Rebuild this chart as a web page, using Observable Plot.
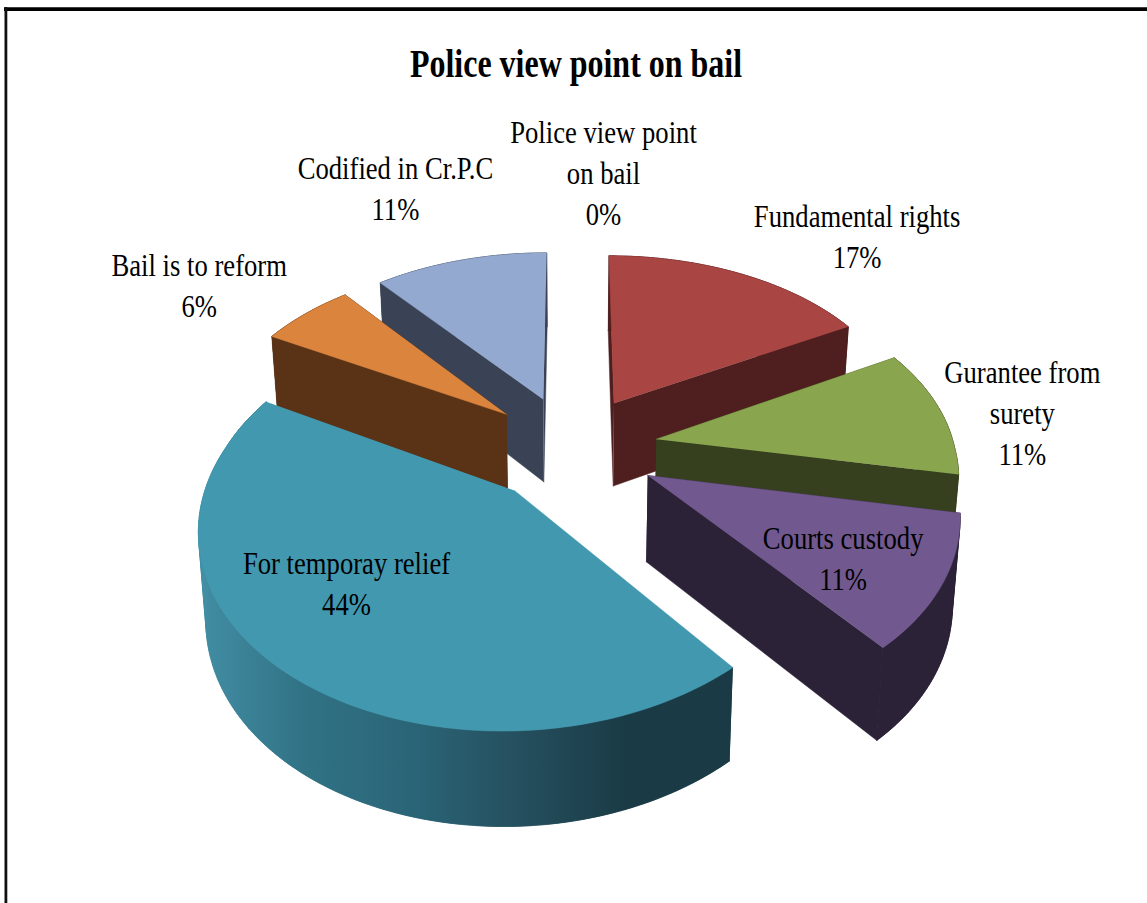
<!DOCTYPE html>
<html>
<head>
<meta charset="utf-8">
<style>html,body{margin:0;padding:0;background:#fff}svg{display:block}</style>
<script src="https://cdn.jsdelivr.net/npm/d3@7"></script>
<script src="https://cdn.jsdelivr.net/npm/@observablehq/plot@0.6"></script>
</head>
<body>
<script>
const chartTitle = "Police view point on bail";
const categories = ["Police view point\non bail","Fundamental rights","Gurantee from\nsurety","Courts custody","For temporay relief","Bail is to reform","Codified in Cr.P.C"];
const percents = [0,17,11,11,44,6,11];
const topColors = ["#7f7f7f","#A94543","#89A54E","#71588F","#4198AF","#DB843D","#93A9CF"];
const sideColors = ["#333333","#4E1F1E","#363F1E","#2C2238","url(#blueWall)","#5A3216","#3A4356"];
const blueWall = ["#428EA4","#317285","#2A6577","#254F5E","#1A3B46","#1A3B46"];
const labelAngle = [4.96,41.5,82.9,123.5,229.1,304.7,336.95];
const labelRadius = [1.700,1.570,1.291,0.701,0.644,1.504,1.706];
const paintOrder = [0,6,1,5,2,3,4];

// pie geometry options
const W = 1147, H = 903, CX = 571, CY = 447, RX = 298, RY = 185, PERSP_BACK = 0.14, PERSP_FRONT = 0.165, DEPTH = 85, EXPLODE = 0.29;
const rad = d => d * Math.PI / 180;
const dir = d => [Math.sin(rad(d)), -Math.cos(rad(d))];
const proj = ([X, Y], z = 0) => ({
  x: CX + RX * X / (1 - (Y < 0 ? PERSP_BACK : PERSP_FRONT) * Y) * (1 - 0.02 * z),
  y: CY + RY * Y / (1 - PERSP_FRONT * Y) + z * DEPTH * (1 + 0.1 * Y)
});
const labelProj = ([X, Y]) => ({
  x: 570 + RX * X / (1 - PERSP_FRONT * Y),
  y: CY + RY * Y / (1 - PERSP_FRONT * Y)
});
let cum = 0;
const slices = percents.map((v, i) => {
  const a0 = cum * 3.6; cum += v; const a1 = cum * 3.6;
  const m = dir((a0 + a1) / 2);
  return {i, a0, a1, off: [EXPLODE * m[0], EXPLODE * m[1]]};
});
const rim = (s, a) => { const d = dir(a); return [s.off[0] + d[0], s.off[1] + d[1]]; };
const rows = [];
let pid = 0;
function poly(points, fill) { pid++; for (const p of points) rows.push({...p, pid, fill}); }
for (const i of paintOrder) {
  const s = slices[i];
  if (percents[i] === 0) continue;
  const n = Math.max(2, Math.round(s.a1 - s.a0));
  const angs = d3.range(n + 1).map(k => s.a0 + (s.a1 - s.a0) * k / n);
  if (i !== 4) {
    poly([proj(s.off), proj(rim(s, s.a0)), proj(rim(s, s.a0), 1), proj(s.off, 1)], sideColors[i]);
    poly([proj(s.off), proj(rim(s, s.a1)), proj(rim(s, s.a1), 1), proj(s.off, 1)], sideColors[i]);
  }
  for (let k = 0; k < n; k++) {
    const p = rim(s, angs[k]), q = rim(s, angs[k + 1]);
    poly([proj(p), proj(q), proj(q, 1), proj(p, 1)], sideColors[i]);
  }
  poly([...angs.map(a => proj(rim(s, a))), ...angs.slice().reverse().map(a => proj(rim(s, a), 1))], sideColors[i]);
  poly([proj(s.off), ...angs.map(a => proj(rim(s, a)))], topColors[i]);
}
const labels = categories.map((c, i) => {
  const d = dir(labelAngle[i]), s = slices[i];
  const P = labelProj([s.off[0] + labelRadius[i] * d[0], s.off[1] + labelRadius[i] * d[1]]);
  return {...P, text: `${c}\n${percents[i]}%`};
});

const wallExtent = d3.extent(rows.filter(r => r.fill === sideColors[4]), r => r.x);
const gradient = () => {
  const ns = "http://www.w3.org/2000/svg";
  const defs = document.createElementNS(ns, "defs");
  const g = document.createElementNS(ns, "linearGradient");
  g.setAttribute("id", "blueWall");
  g.setAttribute("gradientUnits", "userSpaceOnUse");
  g.setAttribute("x1", wallExtent[0]); g.setAttribute("x2", wallExtent[1]);
  g.setAttribute("y1", 0); g.setAttribute("y2", 0);
  blueWall.forEach((c, i) => {
    const st = document.createElementNS(ns, "stop");
    st.setAttribute("offset", i / (blueWall.length - 1));
    st.setAttribute("stop-color", c);
    g.appendChild(st);
  });
  defs.appendChild(g);
  return defs;
};

const plot = Plot.plot({
  width: W, height: H, margin: 0,
  x: {domain: [0, W], range: [0, W], axis: null},
  y: {domain: [0, H], range: [0, H], axis: null},
  color: {type: "identity"},
  style: {background: "#fff"},
  marks: [
    gradient,
    Plot.ruleY([8.6], {x1: 4, x2: W, stroke: "#000", strokeWidth: 3.6}),
    Plot.ruleX([5.4], {y1: 7, y2: H, stroke: "#111", strokeWidth: 2.8}),
    Plot.line(rows, {x: "x", y: "y", z: "pid", fill: "fill", stroke: "fill", strokeWidth: 0.5, curve: "linear"}),
    Plot.text(labels, {x: "x", y: "y", text: "text", fill: "#000", fontFamily: "Liberation Serif", fontSize: 31, lineHeight: 1.33, textAnchor: "middle", lineAnchor: "middle"}),
    Plot.text([chartTitle], {frameAnchor: "top", dx: 2, dy: 64, fontFamily: "Liberation Serif", fontWeight: "bold", fontSize: 39, fill: "#000", lineAnchor: "middle"})
  ]
});
plot.querySelectorAll("text").forEach(t => {
  const sx = t.textContent === chartTitle ? 0.82 : 0.86;
  t.setAttribute("transform", (t.getAttribute("transform") || "") + ` scale(${sx},1)`);
});
document.body.appendChild(plot);
</script>
</body>
</html>
